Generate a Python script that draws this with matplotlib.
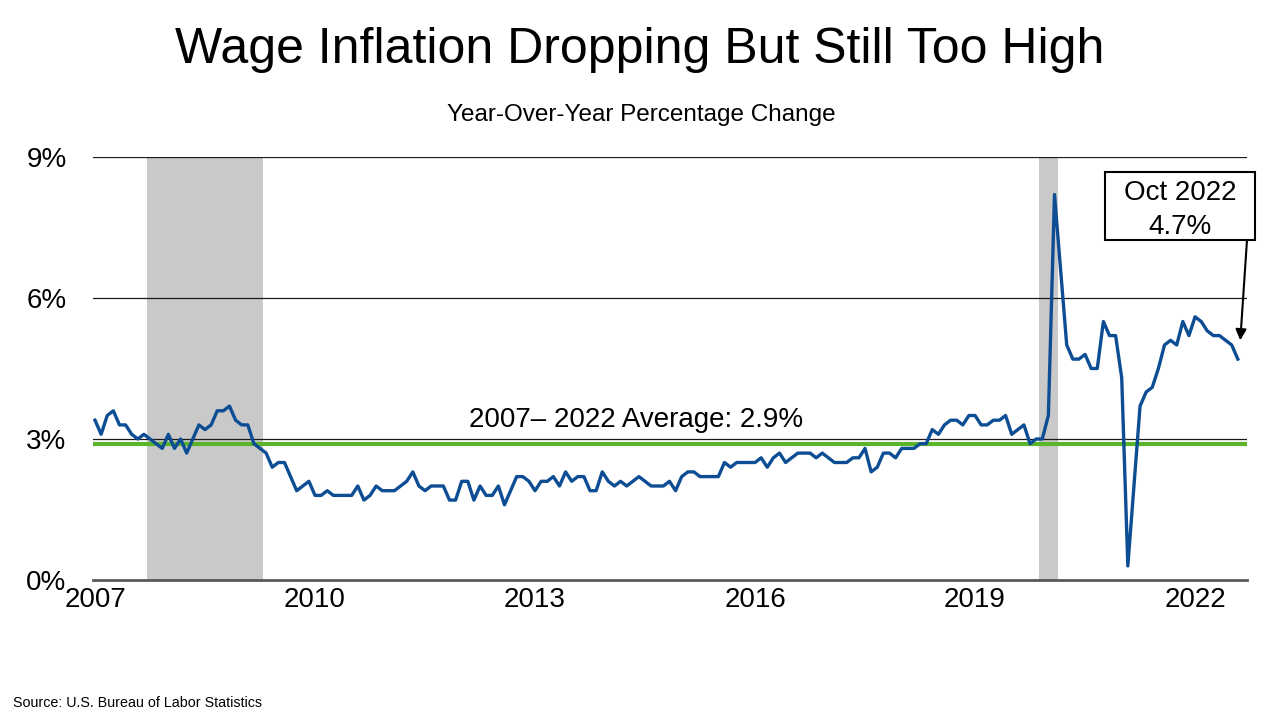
import matplotlib
matplotlib.use("Agg")
import matplotlib.pyplot as plt
from matplotlib.patches import Rectangle
import numpy as np
import pandas as pd

plt.rcParams['font.family'] = ['Liberation Sans', 'DejaVu Sans']

# Monthly year-over-year wage growth (%), Mar 2007 - Oct 2022
start_month = "2007-03"
wage_2007 = [3.4, 3.1, 3.5, 3.6, 3.3, 3.3, 3.1, 3.0, 3.1, 3.0]
wage_2008 = [2.9, 2.8, 3.1, 2.8, 3.0, 2.7, 3.0, 3.3, 3.2, 3.3, 3.6, 3.6]
wage_2009 = [3.7, 3.4, 3.3, 3.3, 2.9, 2.8, 2.7, 2.4, 2.5, 2.5, 2.2, 1.9]
wage_2010 = [2.0, 2.1, 1.8, 1.8, 1.9, 1.8, 1.8, 1.8, 1.8, 2.0, 1.7, 1.8]
wage_2011 = [2.0, 1.9, 1.9, 1.9, 2.0, 2.1, 2.3, 2.0, 1.9, 2.0, 2.0, 2.0]
wage_2012 = [1.7, 1.7, 2.1, 2.1, 1.7, 2.0, 1.8, 1.8, 2.0, 1.6, 1.9, 2.2]
wage_2013 = [2.2, 2.1, 1.9, 2.1, 2.1, 2.2, 2.0, 2.3, 2.1, 2.2, 2.2, 1.9]
wage_2014 = [1.9, 2.3, 2.1, 2.0, 2.1, 2.0, 2.1, 2.2, 2.1, 2.0, 2.0, 2.0]
wage_2015 = [2.1, 1.9, 2.2, 2.3, 2.3, 2.2, 2.2, 2.2, 2.2, 2.5, 2.4, 2.5]
wage_2016 = [2.5, 2.5, 2.5, 2.6, 2.4, 2.6, 2.7, 2.5, 2.6, 2.7, 2.7, 2.7]
wage_2017 = [2.6, 2.7, 2.6, 2.5, 2.5, 2.5, 2.6, 2.6, 2.8, 2.3, 2.4, 2.7]
wage_2018 = [2.7, 2.6, 2.8, 2.8, 2.8, 2.9, 2.9, 3.2, 3.1, 3.3, 3.4, 3.4]
wage_2019 = [3.3, 3.5, 3.5, 3.3, 3.3, 3.4, 3.4, 3.5, 3.1, 3.2, 3.3, 2.9]
wage_2020 = [3.0, 3.0, 3.5, 8.2, 6.6, 5.0, 4.7, 4.7, 4.8, 4.5, 4.5, 5.5]
wage_2021 = [5.2, 5.2, 4.3, 0.3, 2.0, 3.7, 4.0, 4.1, 4.5, 5.0, 5.1, 5.0]
wage_2022 = [5.5, 5.2, 5.6, 5.5, 5.3, 5.2, 5.2, 5.1, 5.0, 4.7]

average_value = 2.9
recessions = [("2007-12", "2009-06"), ("2020-02", "2020-04")]
tick_years = [2007, 2010, 2013, 2016, 2019, 2022]
y_ticks = [0, 3, 6, 9]

title = "Wage Inflation Dropping But Still Too High"
subtitle = "Year-Over-Year Percentage Change"
avg_label = "2007\u2013 2022 Average: 2.9%"
callout = "Oct 2022\n4.7%"
source = "Source: U.S. Bureau of Labor Statistics"

values = (wage_2007 + wage_2008 + wage_2009 + wage_2010 + wage_2011 + wage_2012 +
          wage_2013 + wage_2014 + wage_2015 + wage_2016 + wage_2017 + wage_2018 +
          wage_2019 + wage_2020 + wage_2021 + wage_2022)
months = pd.period_range(start_month, periods=len(values), freq="M")
x = np.arange(len(values))

def idx(period_str):
    return (pd.Period(period_str, freq="M") - months[0]).n

fig = plt.figure(figsize=(12.8, 7.2), dpi=100)
ax = fig.add_axes([93/1280, 1-580/720, (1247-93)/1280, (580-157)/720])

for s, e in recessions:
    ax.axvspan(idx(s) - 0.5, idx(e) + 0.5, color="#c9c9c9", zorder=0, lw=0)

for yv in y_ticks[1:]:
    ax.axhline(yv, color="#1a1a1a", lw=0.9, zorder=1)

ax.axhline(average_value, color="#5bb52b", lw=3.0, zorder=2)
ax.plot(x, values, color="#0d4d94", lw=2.4, zorder=3, solid_joinstyle="round")

ax.set_xlim(-0.33, len(values) - 1 + 1.5)
ax.set_ylim(0, 9)
ax.set_yticks(y_ticks)
ax.set_yticklabels([f"{v}%" for v in y_ticks])
ax.set_xticks([idx(f"{y}-03") for y in tick_years])
ax.set_xticklabels([str(y) for y in tick_years])
ax.tick_params(axis="both", length=0, labelsize=20, colors="black")
ax.tick_params(axis="y", pad=19)
ax.tick_params(axis="x", pad=5)
for sp in ["top", "right", "left"]:
    ax.spines[sp].set_visible(False)
ax.spines["bottom"].set_color("#595959")
ax.spines["bottom"].set_linewidth(2)
ax.spines["bottom"].set_zorder(4)

ax.text(0.471, average_value + 0.22, avg_label, ha="center", va="bottom",
        fontsize=20, zorder=5, transform=ax.get_yaxis_transform())

# callout box
box_x0, box_x1 = (1105-93)/1154, (1255-93)/1154
box_y0, box_y1 = (580-240)/423, (580-172)/423
ax.add_patch(Rectangle((box_x0, box_y0), box_x1 - box_x0, box_y1 - box_y0,
                       transform=ax.transAxes, fc="white", ec="black", lw=1.5,
                       clip_on=False, zorder=6))
ax.text((box_x0 + box_x1) / 2, (box_y0 + box_y1) / 2 - 0.009, callout,
        transform=ax.transAxes, ha="center", va="center", fontsize=20,
        linespacing=1.4, zorder=7)
ax.annotate("", xy=(x[-1] + 0.4, values[-1] + 0.4), xycoords="data",
            xytext=(1.0, box_y0), textcoords="axes fraction",
            arrowprops=dict(arrowstyle="-|>", color="black", lw=1.5, mutation_scale=16,
                            shrinkA=0, shrinkB=0),
            zorder=6, annotation_clip=False)

fig.text(640/1280, 1-50/720, title, ha="center", va="center", fontsize=36)
fig.text(641/1280, 1-115/720, subtitle, ha="center", va="center", fontsize=17.5)
fig.text(13/1280, 1-703/720, source, ha="left", va="center", fontsize=10.3)

fig.savefig("out.png", dpi=100)
